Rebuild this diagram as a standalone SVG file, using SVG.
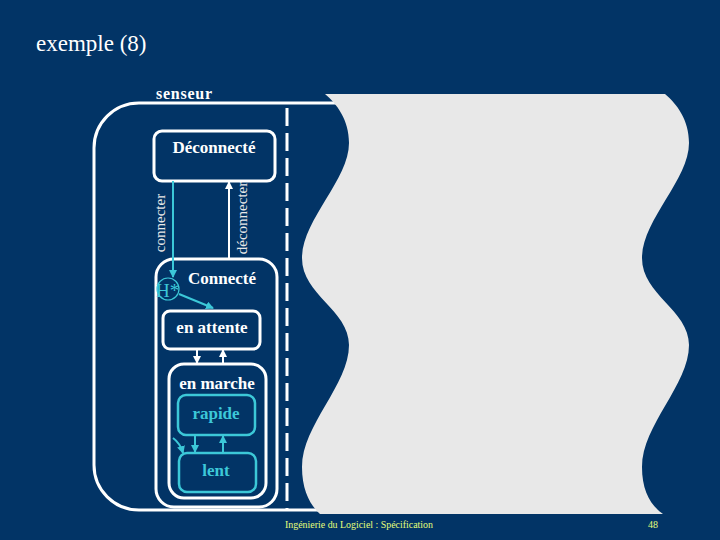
<svg xmlns="http://www.w3.org/2000/svg" width="720" height="540" viewBox="0 0 720 540">
<defs>
<style>
.st{fill:none;stroke:#ffffff;stroke-width:3}
.cy{fill:none;stroke:#3cc8d8;stroke-width:2.5}
.lbl{font-family:"Liberation Serif",serif;font-weight:bold;font-size:17px;fill:#ffffff;text-anchor:middle}
.clbl{font-family:"Liberation Serif",serif;font-weight:bold;font-size:17px;fill:#3cc8d8;text-anchor:middle}
.ev{font-family:"Liberation Serif",serif;font-size:15px;fill:#e8e8e8;text-anchor:middle}
.wl{stroke:#ffffff;stroke-width:2;fill:none}
.cl{stroke:#3cc8d8;stroke-width:2;fill:none}
.foot{font-family:"Liberation Serif",serif;font-size:10px;fill:#e6ff7a}
</style>
<marker id="aw" markerWidth="8" markerHeight="8" refX="7" refY="4" orient="auto" markerUnits="userSpaceOnUse">
<path d="M0,0 L8,4 L0,8 z" fill="#ffffff"/>
</marker>
<marker id="ac" markerWidth="8" markerHeight="8" refX="7" refY="4" orient="auto" markerUnits="userSpaceOnUse">
<path d="M0,0 L8,4 L0,8 z" fill="#3cc8d8"/>
</marker>
</defs>
<rect x="0" y="0" width="720" height="540" fill="#023466"/>
<text x="36" y="51" font-family="Liberation Serif,serif" font-size="23" fill="#ffffff">exemple (8)</text>

<g id="senseur">
<rect class="st" x="94" y="103" width="420" height="407" rx="45" ry="45"/>
<text x="156" y="99" font-family="Liberation Serif,serif" font-weight="bold" font-size="16" fill="#ffffff" textLength="56" lengthAdjust="spacing">senseur</text>
<line x1="287" y1="108" x2="287" y2="510" stroke="#ffffff" stroke-width="3" stroke-dasharray="18 7"/>
</g>

<g id="deconnecte">
<rect class="st" x="154" y="131" width="121" height="50" rx="8"/>
<text class="lbl" x="214" y="153">Déconnecté</text>
</g>

<g id="connecte">
<rect class="st" x="156" y="259" width="121" height="248" rx="18"/>
<text class="lbl" x="222" y="284">Connecté</text>
</g>

<g id="historique">
<circle cx="168" cy="289" r="11" fill="none" stroke="#3cc8d8" stroke-width="1.2"/>
<text x="156" y="297" font-family="Liberation Serif,serif" font-size="19" fill="#3cc8d8">H*</text>
</g>

<g id="en-attente">
<rect class="st" x="163" y="311" width="97" height="38" rx="7"/>
<text class="lbl" x="212" y="333">en attente</text>
</g>

<g id="en-marche">
<rect class="st" x="169" y="364" width="97" height="134" rx="15"/>
<text class="lbl" x="217" y="389">en marche</text>
</g>

<g id="rapide">
<rect class="cy" x="178" y="395" width="77" height="40" rx="8"/>
<text class="clbl" x="216" y="419">rapide</text>
</g>

<g id="lent">
<rect class="cy" x="179" y="453" width="77" height="39" rx="8"/>
<text class="clbl" x="216" y="476">lent</text>
</g>

<g id="connecteurs">
<line class="cl" x1="173" y1="181" x2="173" y2="277" marker-end="url(#ac)"/>
<text class="ev" transform="translate(165,223) rotate(-90)">connecter</text>
<line class="wl" x1="229" y1="258" x2="229" y2="182" marker-end="url(#aw)"/>
<text class="ev" transform="translate(247,218) rotate(-90)">déconnecter</text>
<line class="cl" x1="179" y1="294" x2="213" y2="308" marker-end="url(#ac)"/>
<line class="wl" x1="197" y1="350" x2="197" y2="363" marker-end="url(#aw)"/>
<line class="wl" x1="223" y1="364" x2="223" y2="350" marker-end="url(#aw)"/>
<line class="cl" x1="195" y1="436" x2="195" y2="452" marker-end="url(#ac)"/>
<line class="cl" x1="223" y1="453" x2="223" y2="436" marker-end="url(#ac)"/>
<path class="cl" d="M173,438 Q180,443 183,453" marker-end="url(#ac)"/>
</g>

<path fill="#e8e8e8" d="M325,94 L665,94 C677,104 689,120 689,143 C689,180 642,220 642,258 C642,295 689,310 689,345 C689,385 642,425 642,467 C642,490 650,505 663,514 L320,514 C310,505 302,490 302,467 C302,425 349,385 349,345 C349,310 302,295 302,258 C302,220 349,180 349,143 C349,120 337,104 325,94 Z"/>

<text class="foot" x="285" y="528" textLength="148" lengthAdjust="spacingAndGlyphs">Ingénierie du Logiciel : Spécification</text>
<text class="foot" x="648" y="528">48</text>
</svg>
